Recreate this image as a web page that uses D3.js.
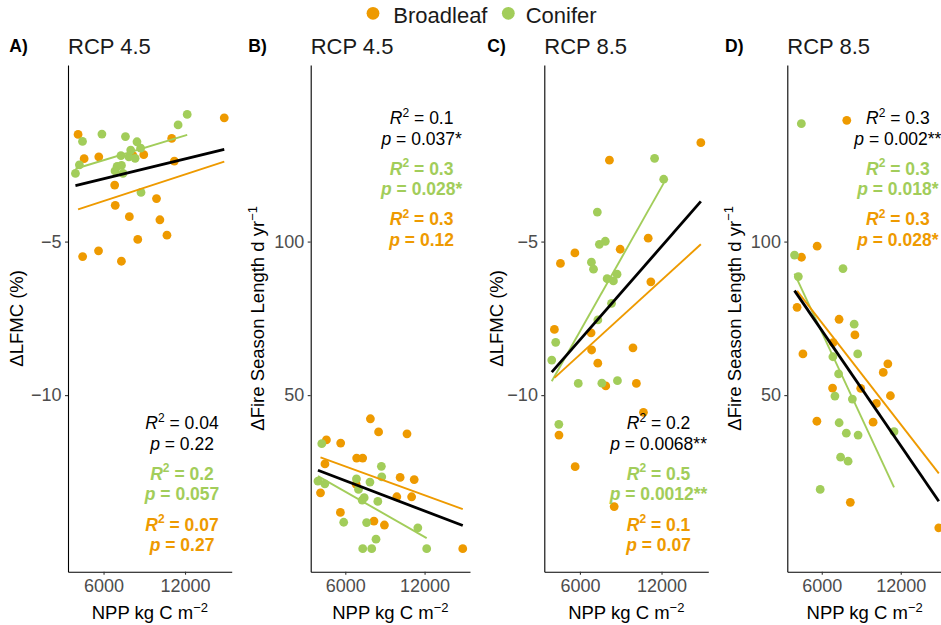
<!DOCTYPE html>
<html>
<head>
<meta charset="utf-8">
<script src="https://d3js.org/d3.v7.min.js"></script>
<style>
  body { margin: 0; background: #fff; }
  svg text { font-family: "Liberation Sans", Arial, Helvetica, sans-serif; }
</style>
</head>
<body>
<script>
// NPP of each site (kg C m-2), the same sites in every panel
var nppBroadleaf = [4125, 4460, 4570, 5630, 5650, 6820, 6860, 7315, 7900, 8170, 8520, 8960, 9900, 10150, 10670, 11020, 11215, 14890];
var nppConifer   = [3930, 4220, 4450, 5880, 6845, 7000, 7280, 7320, 7430, 7613, 7866, 8000, 8325, 8462, 8730, 8760, 11490, 12160];

// A) delta LFMC (%), RCP 4.5
var lfmc45Broadleaf = [-1.51, -5.49, -2.30, -5.30, -2.24, -3.16, -3.82, -5.64, -4.19, -2.20, -4.93, -2.17, -3.60, -4.29, -4.79, -1.64, -2.38, -0.97];
var lfmc45Conifer   = [-2.78, -2.50, -1.74, -1.50, -2.70, -2.55, -2.20, -2.52, -2.78, -1.58, -2.24, -2.02, -2.29, -1.75, -1.96, -3.40, -1.20, -0.86];
// B) delta fire season length (d/yr), RCP 4.5
var fsl45Broadleaf = [18.2, 27.6, 35.4, 11.8, 34.4, 21.0, 29.5, 29.5, 42.3, 9.0, 38.0, 7.7, 16.9, 23.2, 37.4, 16.9, 22.5, 0];
var fsl45Conifer   = [22.0, 34.2, 21.1, 8.6, 22.7, 19.3, 15.8, 0, 16.6, 8.5, 21.7, 0, 3.1, 15.4, 26.8, 23.4, 6.8, 0];
// C) delta LFMC (%), RCP 8.5
var lfmc85Broadleaf = [-7.86, -11.30, -5.71, -5.37, -12.33, -7.97, -8.53, -8.96, -9.70, -2.35, -13.63, -5.25, -8.46, -9.62, -10.56, -4.89, -6.31, -1.78];
var lfmc85Conifer   = [-8.86, -8.28, -10.95, -9.62, -5.67, -5.90, -4.04, -7.55, -5.09, -9.61, -4.99, -6.21, -7.01, -6.28, -6.06, -9.53, -2.29, -2.97];
// D) delta fire season length (d/yr), RCP 8.5
var fsl85Broadleaf = [78.6, 94.9, 63.4, 41.5, 98.5, 52.3, 67.1, 74.7, 139.5, 15.1, 69.6, 52.2, 41.2, 47.3, 57.4, 60.2, 49.8, 6.8];
var fsl85Conifer   = [95.6, 88.6, 138.4, 19.3, 62.5, 49.7, 56.9, 41.0, 29.8, 91.2, 37.6, 28.5, 48.7, 73.1, 63.4, 37.0, 38.1, null];

// fit statistics per panel: [all sites, conifer, broadleaf]
var statR2 = [["0.04", "0.2", "0.07"], ["0.1", "0.3", "0.3"], ["0.2", "0.5", "0.1"], ["0.3", "0.3", "0.3"]];
var statP  = [["0.22", "0.057", "0.27"], ["0.037*", "0.028*", "0.12"], ["0.0068**", "0.0012**", "0.07"], ["0.002**", "0.018*", "0.028*"]];

var xTicks = [6000, 12000];
var lfmcTicks = [-10, -5], lfmcLimits = [-15, 0];
var fslTicks = [50, 100], fslLimits = [0, 150];
var groupNames = ["Broadleaf", "Conifer"];

var colBroad = "#ee9a00", colCon = "#a2cd5a";
var width = 941, height = 625, plotTop = 65, plotBottom = 571.7;

var panels = [
  { tag: "A)", title: "RCP 4.5", tagX: 9.3, left: 68, right: 231.7, labX: 23.3, kind: "lfmc", yb: lfmc45Broadleaf, yc: lfmc45Conifer, stats: "bottom" },
  { tag: "B)", title: "RCP 4.5", tagX: 248.3, left: 310.7, right: 470, labX: 264, kind: "fsl", yb: fsl45Broadleaf, yc: fsl45Conifer, stats: "top" },
  { tag: "C)", title: "RCP 8.5", tagX: 487.3, left: 544.3, right: 708.3, labX: 503.3, kind: "lfmc", yb: lfmc85Broadleaf, yc: lfmc85Conifer, stats: "bottom" },
  { tag: "D)", title: "RCP 8.5", tagX: 725, left: 787.3, right: 946, labX: 740.7, kind: "fsl", yb: fsl85Broadleaf, yc: fsl85Conifer, stats: "top" }
];

function expand(lo, hi) { var d = (hi - lo) * 0.05; return [lo - d, hi + d]; }

// least squares line over the sites that have a value
function fit(xs, ys) {
  var pts = [];
  xs.forEach(function(x, i){ if (ys[i] != null) pts.push([x, ys[i]]); });
  var mx = d3.mean(pts, function(p){ return p[0]; }), my = d3.mean(pts, function(p){ return p[1]; });
  var sxy = d3.sum(pts, function(p){ return (p[0] - mx) * (p[1] - my); });
  var sxx = d3.sum(pts, function(p){ return (p[0] - mx) * (p[0] - mx); });
  var b = sxy / sxx, a = my - b * mx;
  var ext = d3.extent(pts, function(p){ return p[0]; });
  return [[ext[0], a + b * ext[0]], [ext[1], a + b * ext[1]]];
}

var svg = d3.select("body").append("svg").attr("width", width).attr("height", height);

var xDomain = expand(d3.min(nppBroadleaf.concat(nppConifer)), d3.max(nppBroadleaf.concat(nppConifer)));

// legend
var legend = svg.append("g");
[[373, colBroad, 393.3], [508.3, colCon, 525.7]].forEach(function(l, i){
  legend.append("circle").attr("cx", l[0]).attr("cy", 13.3).attr("r", 6.4).attr("fill", l[1]);
  legend.append("text").attr("x", l[2]).attr("y", 22.7).style("font-size", "22px").attr("fill", "#1a1a1a").text(groupNames[i]);
});

panels.forEach(function(p, pi){
  var x = d3.scaleLinear().domain(xDomain).range([p.left, p.right]);
  var lim = p.kind == "lfmc" ? lfmcLimits : fslLimits;
  var y = d3.scaleLinear().domain(expand(lim[0], lim[1])).range([plotBottom, plotTop]);
  var g = svg.append("g");

  g.append("text").attr("x", p.tagX).attr("y", 52).style("font-size", "17.5px").style("font-weight", "bold").text(p.tag);
  g.append("text").attr("x", p.left).attr("y", 54).style("font-size", "22px").attr("fill", "#1a1a1a").text(p.title);

  // axes
  var ya = g.append("g").attr("transform", "translate(" + p.left + ",0)")
    .call(d3.axisLeft(y).tickValues(p.kind == "lfmc" ? lfmcTicks : fslTicks).tickSize(3).tickSizeOuter(0).tickPadding(3.4));
  var xa = g.append("g").attr("transform", "translate(0," + plotBottom + ")")
    .call(d3.axisBottom(x).tickValues(xTicks).tickFormat(d3.format("d")).tickSize(3).tickSizeOuter(0).tickPadding(5));
  [ya, xa].forEach(function(a){
    a.select(".domain").attr("stroke", "#000").attr("stroke-width", 1.1);
    a.selectAll(".tick line").attr("stroke", "#333").attr("stroke-width", 1.1);
    a.selectAll(".tick text").attr("fill", "#4d4d4d").style("font-size", "18px")
      .style("font-family", "'Liberation Sans', Arial, sans-serif");
  });

  // axis titles
  var xt = g.append("text").attr("x", (p.left + p.right) / 2 + (pi == 3 ? -2 : 0)).attr("y", 619)
    .attr("text-anchor", "middle").style("font-size", "18.5px").attr("fill", "#000");
  xt.append("tspan").text("NPP kg C m");
  xt.append("tspan").attr("dy", -7.5).style("font-size", "13px").text("\u22122");

  var yt = g.append("text").attr("transform", "translate(" + p.labX + "," + ((plotTop + plotBottom) / 2) + ") rotate(-90)")
    .attr("text-anchor", "middle").style("font-size", "18.5px").attr("fill", "#000");
  if (p.kind == "lfmc") {
    yt.text("\u0394LFMC (%)");
  } else {
    yt.append("tspan").text("\u0394Fire Season Length d yr");
    yt.append("tspan").attr("dy", -7.5).style("font-size", "13px").text("\u22121");
  }

  // points
  g.selectAll("circle.b").data(nppBroadleaf.map(function(d, i){ return [d, p.yb[i]]; }).filter(function(d){ return d[1] != null; }))
    .enter().append("circle").attr("class", "b")
    .attr("cx", function(d){ return x(d[0]); }).attr("cy", function(d){ return y(d[1]); })
    .attr("r", 4.4).attr("fill", colBroad);
  g.selectAll("circle.c").data(nppConifer.map(function(d, i){ return [d, p.yc[i]]; }).filter(function(d){ return d[1] != null; }))
    .enter().append("circle").attr("class", "c")
    .attr("cx", function(d){ return x(d[0]); }).attr("cy", function(d){ return y(d[1]); })
    .attr("r", 4.4).attr("fill", colCon);

  // regression lines
  var line = d3.line().x(function(d){ return x(d[0]); }).y(function(d){ return y(d[1]); });
  g.append("path").attr("d", line(fit(nppConifer, p.yc))).attr("stroke", colCon).attr("stroke-width", 1.9).attr("fill", "none");
  g.append("path").attr("d", line(fit(nppBroadleaf, p.yb))).attr("stroke", colBroad).attr("stroke-width", 1.9).attr("fill", "none");
  g.append("path").attr("d", line(fit(nppBroadleaf.concat(nppConifer), p.yb.concat(p.yc)))).attr("stroke", "#000").attr("stroke-width", 2.8).attr("fill", "none");

  // fit statistics
  var cx = x(11780);
  var y0 = p.stats == "top" ? plotTop + 59 : plotTop + 364.3;
  [["#000", false], [colCon, true], [colBroad, true]].forEach(function(s, k){
    var yy = y0 + k * 50.6;
    var t1 = g.append("text").attr("x", cx).attr("y", yy).attr("text-anchor", "middle").attr("fill", s[0])
      .style("font-size", "17.5px").style("font-weight", s[1] ? "bold" : "normal");
    t1.append("tspan").style("font-style", "italic").text("R");
    t1.append("tspan").attr("dy", -7.5).style("font-size", "12px").text("2");
    t1.append("tspan").attr("dy", 7.5).text(" = " + statR2[pi][k]);
    var t2 = g.append("text").attr("x", cx).attr("y", yy + 20.5).attr("text-anchor", "middle").attr("fill", s[0])
      .style("font-size", "17.5px").style("font-weight", s[1] ? "bold" : "normal");
    t2.append("tspan").style("font-style", "italic").text("p");
    t2.append("tspan").text(" = " + statP[pi][k]);
  });
});
</script>
</body>
</html>
